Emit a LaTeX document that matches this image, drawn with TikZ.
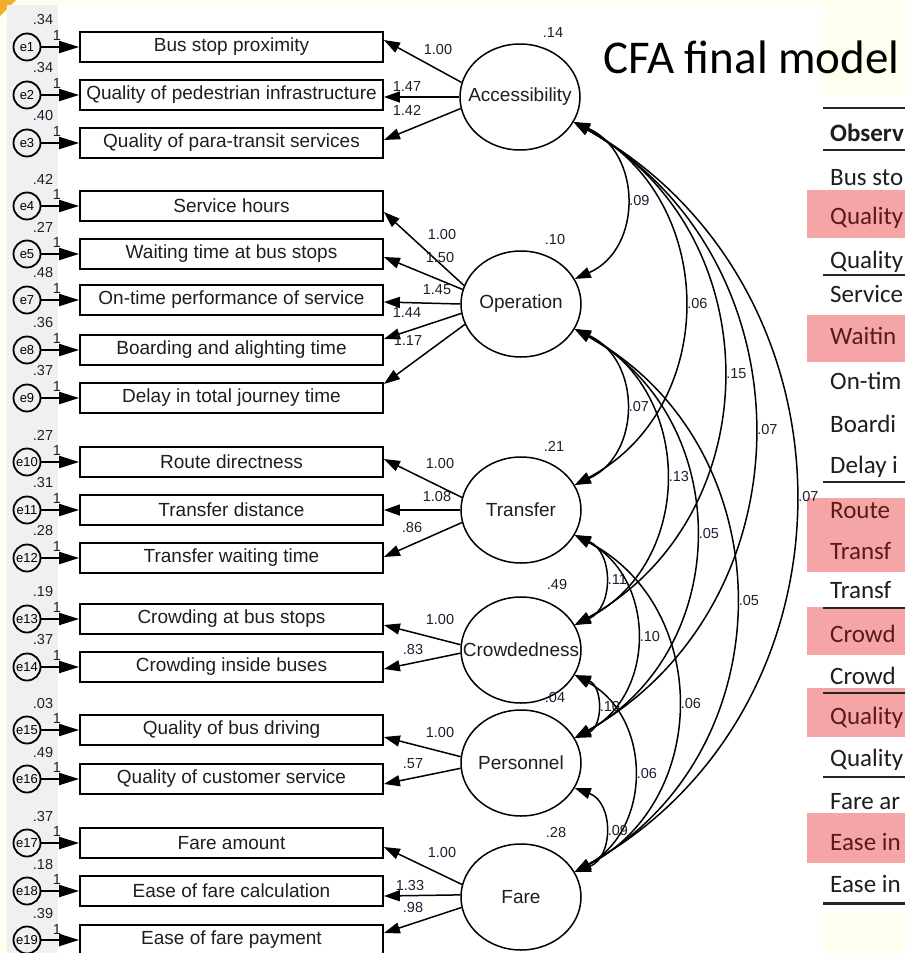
\documentclass[tikz,border=0pt]{standalone}
\usepackage{fontspec}
\setmainfont{Liberation Sans}
\newfontfamily\calib{Carlito}
\usetikzlibrary{arrows.meta,shapes.geometric,calc}
\newcommand\myfs[1]{\fontsize{#1pt}{#1pt}\selectfont}
\definecolor{cream}{HTML}{FFFFF0}
\definecolor{stripgray}{HTML}{F0F0F0}
\definecolor{labc}{RGB}{30,30,50}
\definecolor{pinkbg}{RGB}{245,165,165}
\definecolor{darkred}{RGB}{90,26,26}
\definecolor{tabtext}{RGB}{30,30,30}
\definecolor{cornerorange}{RGB}{240,175,40}
\tikzset{
  obs/.style={draw, line width=1.8pt, minimum width=303pt, minimum height=30pt, inner sep=0pt, font=\myfs{19}, text=tabtext},
  lat/.style={draw, ellipse, line width=1.5pt, minimum width=120pt, minimum height=106pt, inner sep=0pt},
  lattext/.style={font=\myfs{19}, text=tabtext},
  err/.style={draw, circle, line width=1.8pt, minimum size=27pt, inner sep=0pt, font=\myfs{13}},
  lab/.style={font=\myfs{14.5}, inner sep=0pt, text=labc},
  load/.style={line width=1.5pt, -{Triangle[length=16pt,width=11pt]}},
  erra/.style={line width=2pt, -{Triangle[length=20pt,width=12pt]}},
  cov/.style={line width=1.5pt, {Triangle[length=16pt,width=11pt]}-{Triangle[length=16pt,width=11pt]}},
  tabrule/.style={line width=1.3pt, draw=black!85},
  tabtxt/.style={font=\calib\myfs{25}, anchor=base west, inner sep=0pt, text=tabtext},
  tabpink/.style={font=\calib\myfs{25}, anchor=base west, inner sep=0pt, text=darkred},
}
\newcommand\covarc[4]{%
  \draw[cov] let \p1=(#1.335), \p2=(#2.25),
    \n1={4/3*((#3)-\x1)},
    \n2={(\y1-\y2)/2},
    \n3={2*atan(((#3)-\x1)/\n2)},
    \n4={\n1*cos(\n3)/sin(\n3)}
  in (\p1) .. controls (\x1+\n1,\y1-\n4) and (\x2+\n1,\y2+\n4) .. (\p2)
  node[lab, pos=0.5, anchor=west, xshift=3pt] (c#1#2) {#4};}
\begin{document}
\begin{tikzpicture}[x=1pt,y=-1pt]
\clip (0,0) rectangle (905,953);
% backgrounds
\fill[cream] (0,0) rectangle (905,953);
\fill[cornerorange] (0,0) -- (16,0) -- (0,16) -- cycle;
\fill[stripgray] (7,5) rectangle (58,953);
\fill[white] (58,5) rectangle (823,953);
\fill[white] (823,95) rectangle (905,913);
% title
\node[font=\calib\myfs{47}, anchor=base west, inner sep=0pt] (title) at (603,73) {CFA final model};
% table
\fill[pinkbg] (807,190) rectangle (905,238);
\fill[pinkbg] (807,315) rectangle (905,362);
\fill[pinkbg] (807,498) rectangle (905,572);
\fill[pinkbg] (807,607) rectangle (905,655);
\fill[pinkbg] (807,688) rectangle (905,737);
\fill[pinkbg] (807,813) rectangle (905,863);
\foreach \yy in {108,150,275,482,608,693,777}{
  \draw[tabrule] (823,\yy) -- (905,\yy);
}
\draw[line width=3pt, draw=black!85] (823,903) -- (905,903);
\node[tabtxt, font=\calib\bfseries\myfs{25}] (th) at (830,141) {Observ};
\foreach \k/\yb/\t in {1/185/Bus sto, 2/268/Quality, 3/302/Service, 4/389/On-tim, 5/432/Boardi, 6/473/Delay i, 7/598/Transf, 8/684/Crowd, 9/766/Quality, 10/809/Fare ar, 11/892/Ease in}{
  \node[tabtxt] (tr\k) at (830,\yb) {\t};
}
\foreach \k/\yb/\t in {1/224/Quality, 2/344/Waitin, 3/518/Route, 4/559/Transf, 5/642/Crowd, 6/724/Quality, 7/850/Ease in}{
  \node[tabpink] (tp\k) at (830,\yb) {\t};
}
% latent variables
\node[lat, label={[lattext]center:Accessibility}] (acc) at (520,97) {};
\node[lat, label={[lattext]center:Operation}] (op) at (521,304) {};
\node[lat, label={[lattext]center:Transfer}] (tr) at (521,510) {};
\node[lat, label={[lattext]center:Crowdedness}] (cr) at (521,650) {};
\node[lat, label={[lattext]center:Personnel}] (pe) at (521,763) {};
\node[lat, label={[lattext]center:Fare}] (fa) at (521,897) {};
\node[lab] (vacc) at (553,33) {.14};
\node[lab] (vop) at (555,240) {.10};
\node[lab] (vtr) at (554,446) {.21};
\node[lab] (vcr) at (557,585) {.49};
\node[lab] (vpe) at (555,697) {.04};
\node[lab] (vfa) at (556,832) {.28};
% observed variables with error terms
\foreach \i/\y/\txt/\en/\v in {1/47/Bus stop proximity/e1/.34, 2/95/Quality of pedestrian infrastructure/e2/.34, 3/143/Quality of para-transit services/e3/.40, 4/206/Service hours/e4/.42, 5/254/Waiting time at bus stops/e5/.27, 6/300/On-time performance of service/e7/.48, 7/350/Boarding and alighting time/e8/.36, 8/398/Delay in total journey time/e9/.37, 9/462/Route directness/e10/.27, 10/510/Transfer distance/e11/.31, 11/558/Transfer waiting time/e12/.28, 12/619/Crowding at bus stops/e13/.19, 13/667/Crowding inside buses/e14/.37, 14/730/Quality of bus driving/e15/.03, 15/779/Quality of customer service/e16/.49, 16/843/Fare amount/e17/.37, 17/891/Ease of fare calculation/e18/.18, 18/940/Ease of fare payment/e19/.39}{
  \node[obs] (o\i) at (231.5,\y) {\txt};
  \node[err] (e\i) at (27,\y) {\en};
  \draw[erra] (e\i) -- (o\i);
  \node[lab] (ev\i) at (43,\y-27) {\v};
  \node[lab] (eo\i) at (57,\y-11) {1};
}
% loadings
\foreach \l/\a/\o/\s/\t/\lx/\ly in {acc/166/o1/7pt/1.00/438/50, acc/180/o2/-2pt/1.47/407/87, acc/191/o3/3pt/1.42/407/110,
  op/162/o4/-6pt/1.00/442/235, op/166/o5/-3pt/1.50/440/258, op/180/o6/-2pt/1.45/437/290, op/189/o7/11pt/1.44/407/313, op/200/o8/14pt/1.17/408/341,
  tr/168/o9/3pt/1.00/440/464, tr/180/o10/0pt/1.08/437/497, tr/192/o11/1pt/.86/412/528,
  cr/175/o12/-6pt/1.00/440/620, cr/183/o13/-2pt/.83/413/650,
  pe/174/o14/-7pt/1.00/440/732, pe/185/o15/-5pt/.57/413/764,
  fa/168/o16/-4pt/1.00/442/852, fa/178/o17/-5pt/1.33/410/885, fa/190/o18/7pt/.98/413/907}{
  \draw[load] (\l.\a) -- ([yshift=\s]\o.east);
  \node[lab] (L\o) at (\lx,\ly) {\t};
}
% covariances
\covarc{acc}{op}{625}{.09}
\covarc{acc}{tr}{683}{.06}
\covarc{acc}{cr}{722}{.15}
\covarc{acc}{pe}{753}{.07}
\covarc{acc}{fa}{794}{.07}
\covarc{op}{tr}{625}{.07}
\covarc{op}{cr}{665}{.13}
\covarc{op}{pe}{695}{.05}
\covarc{op}{fa}{735}{.05}
\covarc{tr}{cr}{604}{.11}
\covarc{tr}{pe}{636}{.10}
\covarc{tr}{fa}{677}{.06}
\covarc{cr}{pe}{596}{.10}
\covarc{cr}{fa}{633}{.06}
\covarc{pe}{fa}{604}{.09}
\end{tikzpicture}
\end{document}
